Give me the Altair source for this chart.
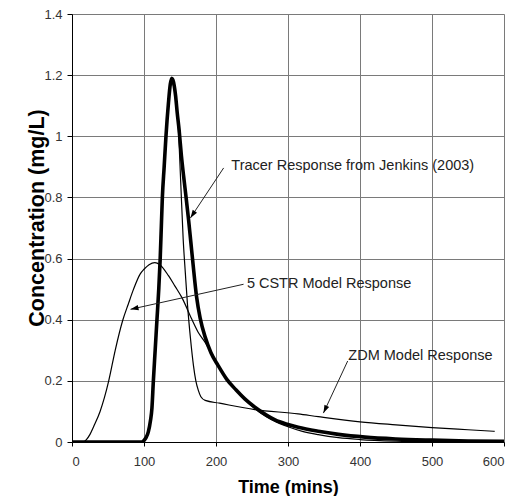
import math
import altair as alt
import pandas as pd

# ---- data ----
tracer_t = [0, 90, 97, 100, 103, 106, 109, 111, 113, 115.5, 118, 120.5, 122.5, 124, 125.5, 128,
            130.5, 134, 136.5, 138.5, 140, 142, 144, 146, 148.8, 152, 155, 158.2, 162, 165, 168.2,
            173, 178, 185, 193, 203, 215, 228, 240, 255, 270, 282, 300, 314, 342, 370, 407, 450,
            500, 550, 600]
tracer_c = [0, 0, 0, 0.005, 0.015, 0.033, 0.07, 0.11, 0.2, 0.3, 0.4, 0.5, 0.6, 0.7, 0.8, 0.9,
            1.0, 1.11, 1.17, 1.19, 1.185, 1.165, 1.13, 1.08, 1.02, 0.935, 0.87, 0.805, 0.725, 0.655,
            0.58, 0.475, 0.405, 0.343, 0.292, 0.25, 0.205, 0.17, 0.141, 0.112, 0.088, 0.072, 0.057,
            0.048, 0.035, 0.025, 0.016, 0.01, 0.006, 0.003, 0.002]

zdm_t = [0, 97, 100, 103, 106, 109, 111, 113, 115.5, 118, 120.5, 122.5, 124, 125.5, 128, 130.5,
         134, 136.5, 138.5, 141, 143.5, 146, 147.8, 151, 154.4, 157.5, 160.5, 164.5, 168.7, 172,
         175.6, 179, 185, 205, 254, 314, 342, 400, 450, 500, 550, 587]
zdm_c = [0, 0, 0.005, 0.015, 0.033, 0.07, 0.11, 0.2, 0.3, 0.4, 0.5, 0.6, 0.7, 0.8, 0.9, 1.0,
         1.11, 1.165, 1.185, 1.165, 1.13, 1.08, 1.02, 0.85, 0.664, 0.55, 0.446, 0.34, 0.25, 0.2,
         0.168, 0.148, 0.136, 0.127, 0.106, 0.092, 0.083, 0.066, 0.056, 0.047, 0.04, 0.035]

cstr_t = [0, 15, 20, 25, 30, 39, 45, 51, 60, 70.7, 78, 85.5, 94.8, 100, 107, 115, 122, 134, 143,
          152.5, 166.3, 175, 184.9, 194, 203.3, 215, 228, 240, 259, 280, 300, 320, 342, 370, 400,
          450, 500, 550, 600]
cstr_c = [0, 0, 0.008, 0.025, 0.05, 0.1, 0.145, 0.2, 0.3, 0.4, 0.45, 0.5, 0.55, 0.565, 0.58,
          0.587, 0.58, 0.544, 0.51, 0.473, 0.402, 0.36, 0.326, 0.29, 0.25, 0.205, 0.17, 0.14, 0.1,
          0.07, 0.05, 0.035, 0.024, 0.014, 0.008, 0.003, 0.001, 0.0005, 0]

x_ticks = [0, 100, 200, 300, 400, 500, 600]
y_ticks = [0, 0.2, 0.4, 0.6, 0.8, 1.0, 1.2, 1.4]

ann_labels = ["Tracer Response from Jenkins (2003)", "5 CSTR Model Response", "ZDM Model Response"]
ann_text_t = [221.3, 242.9, 383.8]
ann_text_c = [0.902, 0.516, 0.2816]
ann_from_t = [210.6, 238.3, 382.9]
ann_from_c = [0.8965, 0.516, 0.265]
ann_to_t = [164.5, 81.3, 349.2]
ann_to_c = [0.733, 0.434, 0.0946]

# ---- layout ----
W, H = 432, 428
X_MAX, Y_MAX = 600, 1.4
FONT = "Liberation Sans"
GRID = "#7a7a7a"

kx = W / X_MAX
ky = H / Y_MAX
angles = []
for a, b, c, d in zip(ann_from_t, ann_from_c, ann_to_t, ann_to_c):
    dx = (c - a) * kx
    dy = -(d - b) * ky
    angles.append(math.degrees(math.atan2(dx, -dy)) % 360)

tracer = pd.DataFrame({"t": tracer_t, "c": tracer_c})
zdm = pd.DataFrame({"t": zdm_t, "c": zdm_c})
cstr = pd.DataFrame({"t": cstr_t, "c": cstr_c})
ann = pd.DataFrame({"label": ann_labels, "tt": ann_text_t, "tc": ann_text_c,
                    "t0": ann_from_t, "c0": ann_from_c, "t1": ann_to_t, "c1": ann_to_c,
                    "ang": angles})

xs = alt.Scale(domain=[0, X_MAX], nice=False, zero=False)
ys = alt.Scale(domain=[0, Y_MAX], nice=False, zero=False)

x_axis = alt.Axis(values=x_ticks, title="Time  (mins)", grid=True, gridColor=GRID,
                  domainColor="black", tickColor="black", tickSize=4, labelPadding=9,
                  labelFontSize=13, labelColor="#333", labelFont=FONT,
                  titleFont=FONT, titleFontSize=18, titleFontWeight="bold", titleColor="black",
                  titleX=W / 2, titleY=45, titleBaseline="middle", titleAlign="center")
y_axis = alt.Axis(values=y_ticks, title="Concentration  (mg/L)", grid=True, gridColor=GRID,
                  domainColor="black", tickColor="black", tickSize=5, labelPadding=5,
                  labelFontSize=13, labelColor="#333", labelFont=FONT,
                  labelExpr="datum.value == 0 ? '0' : (datum.value == 1 ? '1' : format(datum.value, '.1f'))",
                  titleFont=FONT, titleFontSize=21.5, titleFontWeight="bold", titleColor="black",
                  titleX=-35, titleY=203.5, titleAngle=270, titleBaseline="middle", titleAlign="center")

base_x = alt.X("t:Q", scale=xs, axis=x_axis)
base_y = alt.Y("c:Q", scale=ys, axis=y_axis)

l_tracer = alt.Chart(tracer).mark_line(color="black", strokeWidth=3.6, interpolate="monotone",
                                       clip=True).encode(x=base_x, y=base_y)
l_zdm = alt.Chart(zdm).mark_line(color="black", strokeWidth=1.2, interpolate="monotone",
                                 clip=True).encode(x="t:Q", y="c:Q")
l_cstr = alt.Chart(cstr).mark_line(color="black", strokeWidth=1.2, interpolate="monotone",
                                   clip=True).encode(x="t:Q", y="c:Q")

arrows = alt.Chart(ann).mark_rule(color="#222", strokeWidth=1).encode(
    x="t0:Q", y="c0:Q", x2="t1:Q", y2="c1:Q")
heads = alt.Chart(ann).mark_point(shape="M0,0L-0.65,2L0.65,2Z", filled=True, color="black",
                                  opacity=1, size=64).encode(
    x="t1:Q", y="c1:Q", angle=alt.Angle("ang:Q", scale=None))
texts = alt.Chart(ann).mark_text(align="left", baseline="middle", font=FONT, fontSize=14.5,
                                 color="#222").encode(x="tt:Q", y="tc:Q", text="label:N")

chart = alt.layer(l_tracer, l_zdm, l_cstr, arrows, heads, texts).properties(
    width=W, height=H,
    autosize=alt.AutoSizeParams(type="none"),
    padding={"left": 64, "top": 6, "right": 11, "bottom": 54},
).configure_view(stroke=GRID).configure(background="white")

chart.save("out.html", embed_options={"renderer": "svg", "actions": False})
